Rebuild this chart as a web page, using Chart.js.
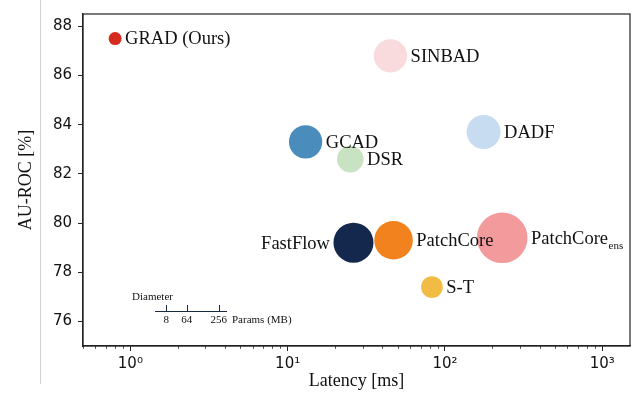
<!DOCTYPE html>
<html>
<head>
<meta charset="utf-8">
<script src="https://cdn.jsdelivr.net/npm/chart.js@4.4.1/dist/chart.umd.min.js"></script>
<style>
  html, body { margin: 0; padding: 0; background: #fff; }
  #wrap { width: 638px; height: 398px; }
</style>
</head>
<body>
<div id="wrap"><canvas id="chart" width="638" height="398"></canvas></div>
<script>
// Values
const methods = ['GRAD (Ours)', 'SINBAD', 'GCAD', 'DSR', 'DADF', 'FastFlow', 'PatchCore', 'PatchCore', 'S-T'];
const subscripts = ['', '', '', '', '', '', '', 'ens', ''];
const latency = [0.8, 45, 13, 25, 176, 26.2, 47.1, 231, 82.6];          // ms
const auroc = [87.5, 86.8, 83.3, 82.6, 83.7, 79.2, 79.3, 79.4, 77.4];   // %
const params = [27, 178, 178, 113, 185, 256, 238, 410, 75];             // MB
const colors = ['#d52b1e', '#f9dbdd', '#4a8cbc', '#c8e3c1', '#c7dbf1', '#14284d', '#f1821d', '#f29a9c', '#f1bb44'];
const xMajorTicks = [1, 10, 100, 1000];
const xTickLabels = ['10\u2070', '10\u00b9', '10\u00b2', '10\u00b3'];
const yTicks = [76, 78, 80, 82, 84, 86, 88];
const sizeLegendTicks = [8, 64, 256];
const leftLabels = ['FastFlow'];

const X_MIN = 0.5, X_MAX = 1500;
const SERIF = '"Liberation Serif", "Times New Roman", serif';
const SANS = '"DejaVu Sans", sans-serif';

// bubble diameter grows with sqrt of the parameter count
function radius(p) {
    return 1.25 * Math.sqrt(p);
}

// no extra room for overhanging tick labels, the frame is fixed
function noPadding(scale) {
    scale.paddingLeft = 0;
    scale.paddingRight = 0;
    scale.paddingTop = 0;
    scale.paddingBottom = 0;
}

// white background + the thin grey rule at the left of the figure
const backgroundPlugin = {
    id: 'background',
    beforeDraw(chart) {
        const ctx = chart.ctx;
        ctx.save();
        ctx.fillStyle = '#fff';
        ctx.fillRect(0, 0, chart.width, chart.height);
        ctx.strokeStyle = '#d0d0d0';
        ctx.lineWidth = 1;
        ctx.beginPath();
        ctx.moveTo(40.5, 0);
        ctx.lineTo(40.5, 384);
        ctx.stroke();
        ctx.restore();
    }
};

// name next to each bubble
const labelPlugin = {
    id: 'bubbleLabels',
    afterDatasetsDraw(chart) {
        const ctx = chart.ctx;
        const meta = chart.getDatasetMeta(0);
        ctx.save();
        ctx.fillStyle = '#111';
        meta.data.forEach((pt, i) => {
            const r = pt.options.radius;
            const left = leftLabels.includes(methods[i]);
            const y = pt.y + 1;
            ctx.font = '18.5px ' + SERIF;
            ctx.textBaseline = 'middle';
            if (left) {
                ctx.textAlign = 'right';
                ctx.fillText(methods[i], pt.x - r - 3.5, y);
            } else {
                const x0 = pt.x + r + 3.5;
                ctx.textAlign = 'left';
                ctx.fillText(methods[i], x0, y);
                if (subscripts[i]) {
                    const w = ctx.measureText(methods[i]).width;
                    ctx.font = '11px ' + SERIF;
                    ctx.textBaseline = 'alphabetic';
                    ctx.fillText(subscripts[i], x0 + w + 0.5, y + 10);
                }
            }
        });
        ctx.restore();
    }
};

// box frame, minor log ticks and the size legend
const framePlugin = {
    id: 'frame',
    afterDraw(chart) {
        const ctx = chart.ctx;
        const a = chart.chartArea;
        const xs = chart.scales.x;
        ctx.save();
        ctx.strokeStyle = '#222';
        ctx.lineWidth = 1.2;
        ctx.strokeRect(a.left, a.top, a.right - a.left, a.bottom - a.top);

        ctx.lineWidth = 0.8;
        ctx.beginPath();
        xs.ticks.forEach(t => {
            if (t.major) return;
            const px = Math.round(xs.getPixelForValue(t.value)) + 0.5;
            ctx.moveTo(px, a.bottom);
            ctx.lineTo(px, a.bottom + 2.8);
        });
        ctx.stroke();

        // size legend
        const lx = a.left + 72;
        const ly = a.bottom - 35;
        const unit = 3.98;
        ctx.strokeStyle = '#1a2a40';
        ctx.lineWidth = 1;
        ctx.beginPath();
        ctx.moveTo(lx, ly + 0.5);
        ctx.lineTo(lx + 72, ly + 0.5);
        sizeLegendTicks.forEach(v => {
            const tx = Math.round(lx + Math.sqrt(v) * unit) + 0.5;
            ctx.moveTo(tx, ly);
            ctx.lineTo(tx, ly - 6);
        });
        ctx.stroke();
        ctx.fillStyle = '#111';
        ctx.font = '11px ' + SERIF;
        ctx.textBaseline = 'middle';
        ctx.textAlign = 'left';
        ctx.fillText('Diameter', a.left + 49, ly - 14);
        ctx.fillText('Params (MB)', lx + 77, ly + 9);
        ctx.textAlign = 'center';
        sizeLegendTicks.forEach(v => {
            ctx.fillText(String(v), lx + Math.sqrt(v) * unit, ly + 9);
        });
        ctx.restore();
    }
};

function initChart() {
    const ctx = document.getElementById('chart').getContext('2d');
    return new Chart(ctx, {
        type: 'bubble',
        data: {
            datasets: [{
                data: latency.map((x, i) => ({ x: x, y: auroc[i], r: radius(params[i]) })),
                backgroundColor: colors,
                borderWidth: 0,
                hoverRadius: 0,
                hoverBorderWidth: 0
            }]
        },
        options: {
            responsive: false,
            animation: false,
            events: [],
            layout: { autoPadding: false, padding: { left: 0, right: 8, top: 14, bottom: 0 } },
            plugins: {
                legend: { display: false },
                tooltip: { enabled: false }
            },
            scales: {
                x: {
                    type: 'logarithmic',
                    min: X_MIN,
                    max: X_MAX,
                    afterBuildTicks(scale) {
                        const ticks = xMajorTicks.map(v => ({ value: v, major: true }));
                        for (let k = -1; k <= 3; k++) {
                            for (let m = 2; m <= 9; m++) {
                                const v = m * Math.pow(10, k);
                                if (v >= X_MIN && v <= X_MAX) ticks.push({ value: v, major: false });
                            }
                        }
                        ticks.sort((p, q) => p.value - q.value);
                        scale.ticks = ticks;
                    },
                    afterFit(scale) { scale.height = 52; noPadding(scale); },
                    ticks: {
                        autoSkip: false,
                        maxRotation: 0,
                        padding: 4,
                        color: '#111',
                        font: { family: SANS, size: 15 },
                        callback: function (value) {
                            const i = xMajorTicks.indexOf(value);
                            return i >= 0 ? xTickLabels[i] : '';
                        }
                    },
                    grid: {
                        drawOnChartArea: false,
                        tickLength: 5,
                        tickWidth: 1,
                        tickColor: c => (c.tick && c.tick.major) ? '#222' : 'rgba(0,0,0,0)'
                    },
                    border: { display: true, color: '#222', width: 1.2 },
                    title: {
                        display: true,
                        text: 'Latency [ms]',
                        color: '#111',
                        font: { family: SERIF, size: 18 },
                        padding: { top: 0, bottom: 6 }
                    }
                },
                y: {
                    type: 'linear',
                    min: 75,
                    max: 88.5,
                    afterBuildTicks(scale) {
                        scale.ticks = yTicks.map(v => ({ value: v }));
                    },
                    afterFit(scale) { scale.width = 83; noPadding(scale); },
                    ticks: {
                        padding: 6,
                        color: '#111',
                        font: { family: SANS, size: 15 }
                    },
                    grid: {
                        drawOnChartArea: false,
                        tickLength: 5,
                        tickWidth: 1,
                        tickColor: '#222'
                    },
                    border: { display: true, color: '#222', width: 1.2 },
                    title: {
                        display: true,
                        text: 'AU-ROC [%]',
                        color: '#111',
                        font: { family: SERIF, size: 18 },
                        padding: { top: 15, bottom: 0 }
                    }
                }
            }
        },
        plugins: [backgroundPlugin, labelPlugin, framePlugin]
    });
}

document.addEventListener('DOMContentLoaded', () => {
    initChart();
});
</script>
</body>
</html>
